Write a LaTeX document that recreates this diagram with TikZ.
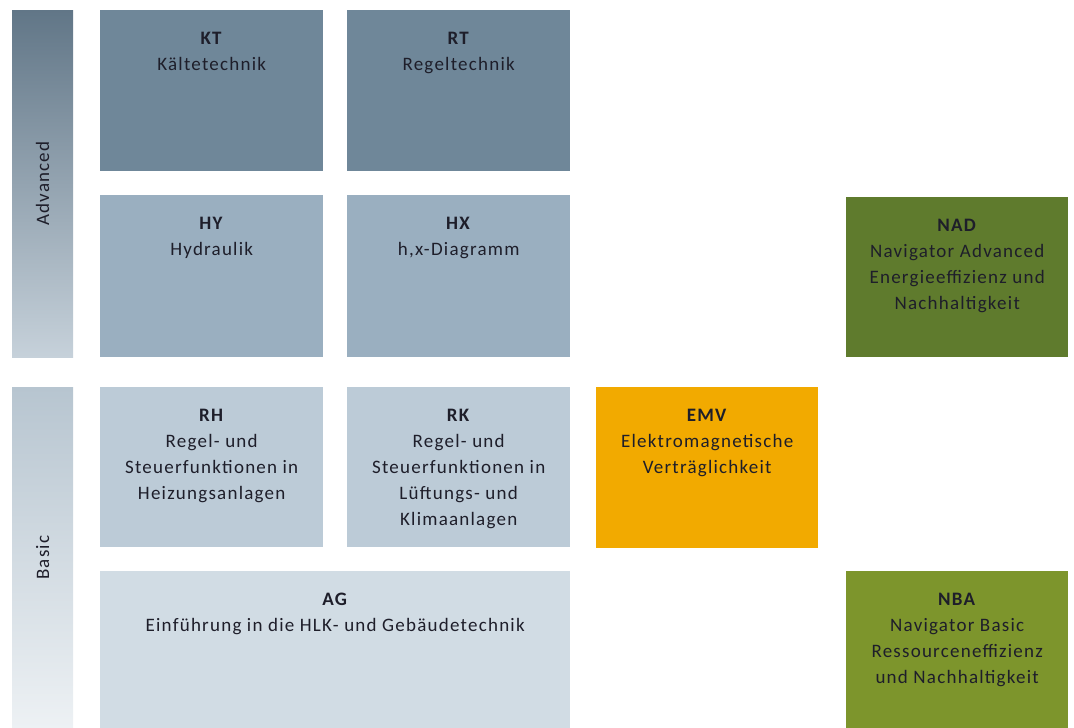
\documentclass[tikz,border=0pt]{standalone}
\usepackage{fontspec}
\setmainfont[LetterSpace=6.5]{Carlito}
\usepackage{xcolor}
\usepackage{tikz}
\usetikzlibrary{positioning}

\definecolor{advdark}{HTML}{617687}
\definecolor{advlight}{HTML}{C6D1DA}
\definecolor{basdark}{HTML}{B7C5D0}
\definecolor{baslight}{HTML}{EDF1F4}
\definecolor{kurs1}{HTML}{6F8799}
\definecolor{kurs2}{HTML}{9AAFC0}
\definecolor{kurs3}{HTML}{BCCBD7}
\definecolor{kurs4}{HTML}{D1DCE4}
\definecolor{navadv}{HTML}{5F7B2D}
\definecolor{navbas}{HTML}{7D952C}
\definecolor{emvorange}{HTML}{F2AA00}
\definecolor{schrift}{HTML}{1E1E2A}

\begin{document}
\begin{tikzpicture}[x=1pt,y=-1pt,
  every node/.style={font=\fontsize{19}{26}\selectfont, text=schrift},
  kurs/.style={anchor=north west, inner sep=0pt, minimum width=223pt, minimum height=161pt},
  leiste/.style={anchor=north west, inner sep=0pt, minimum width=61pt},
  titel/.style={anchor=north, align=center, inner sep=0pt, yshift=-22pt}]

\useasboundingbox (0,0) rectangle (1074,728);

% level bars
\node[leiste, minimum height=347pt, top color=advdark, bottom color=advlight] (advanced) at (12,10) {};
\node[rotate=90] (advlabel) at (advanced.center) {Advanced};
\node[leiste, minimum height=341pt, top color=basdark, bottom color=baslight] (basic) at (12,387) {};
\node[rotate=90] (baslabel) at (basic.center) {Basic};

% advanced courses
\node[kurs, fill=kurs1] (kt) at (100,10) {};
\node[titel] (kt-text) at (kt.north) {\textbf{KT}\\Kältetechnik};
\node[kurs, fill=kurs1] (rt) at (347,10) {};
\node[titel] (rt-text) at (rt.north) {\textbf{RT}\\Regeltechnik};
\node[kurs, fill=kurs2, minimum height=162pt] (hy) at (100,195) {};
\node[titel] (hy-text) at (hy.north) {\textbf{HY}\\Hydraulik};
\node[kurs, fill=kurs2, minimum height=162pt] (hx) at (347,195) {};
\node[titel] (hx-text) at (hx.north) {\textbf{HX}\\h,x-Diagramm};
\node[kurs, fill=navadv, minimum width=222pt, minimum height=160pt] (nad) at (846,197) {};
\node[titel] (nad-text) at (nad.north) {\textbf{NAD}\\Navigator Advanced\\Energieeffizienz und\\Nachhaltigkeit};

% basic courses
\node[kurs, fill=kurs3, minimum height=160pt] (rh) at (100,387) {};
\node[titel] (rh-text) at (rh.north) {\textbf{RH}\\Regel- und\\Steuerfunktionen in\\Heizungsanlagen};
\node[kurs, fill=kurs3, minimum height=160pt] (rk) at (347,387) {};
\node[titel] (rk-text) at (rk.north) {\textbf{RK}\\Regel- und\\Steuerfunktionen in\\Lüftungs- und\\Klimaanlagen};
\node[kurs, fill=emvorange, minimum width=222pt] (emv) at (596,387) {};
\node[titel] (emv-text) at (emv.north) {\textbf{EMV}\\Elektromagnetische\\Verträglichkeit};
\node[kurs, fill=kurs4, minimum width=470pt, minimum height=157pt] (ag) at (100,571) {};
\node[titel] (ag-text) at (ag.north) {\textbf{AG}\\Einführung in die HLK- und Gebäudetechnik};
\node[kurs, fill=navbas, minimum width=222pt, minimum height=157pt] (nba) at (846,571) {};
\node[titel] (nba-text) at (nba.north) {\textbf{NBA}\\Navigator Basic\\Ressourceneffizienz\\und Nachhaltigkeit};
\end{tikzpicture}
\end{document}
